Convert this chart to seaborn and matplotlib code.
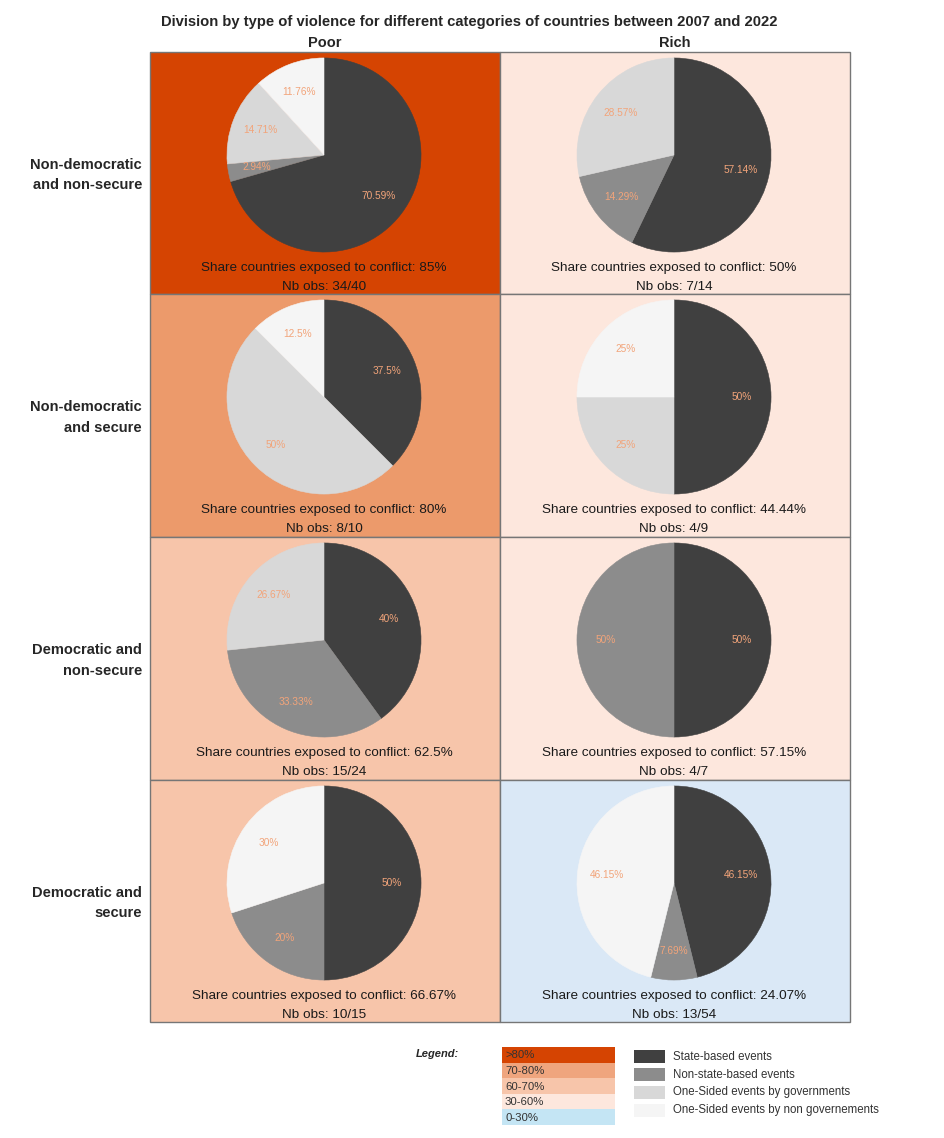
import numpy as np
import matplotlib
matplotlib.use("Agg")
import matplotlib.pyplot as plt
from matplotlib.patches import Rectangle
import seaborn as sns

# data
income_groups = ["Poor", "Rich"]
row_labels = ["Non-democratic\nand non-secure", "Non-democratic\nand secure",
              "Democratic and\nnon-secure", "Democratic and\nsecure"]
event_types = ["State-based events", "Non-state-based events",
               "One-Sided events by governments", "One-Sided events by non governements"]

# shares per type of violence (%), order = event_types
poor_shares = [
    [70.59, 2.94, 14.71, 11.76],
    [37.5, 0, 50, 12.5],
    [40, 33.33, 26.67, 0],
    [50, 20, 0, 30],
]
rich_shares = [
    [57.14, 14.29, 28.57, 0],
    [50, 0, 25, 25],
    [50, 50, 0, 0],
    [46.15, 7.69, 0, 46.15],
]
poor_exposed = ["85%", "80%", "62.5%", "66.67%"]
rich_exposed = ["50%", "44.44%", "57.15%", "24.07%"]
poor_exposed_val = [85, 80, 62.5, 66.67]
rich_exposed_val = [50, 44.44, 57.15, 24.07]
poor_obs = ["34/40", "8/10", "15/24", "10/15"]
rich_obs = ["7/14", "4/9", "4/7", "13/54"]

class_labels = [">80%", "70-80%", "60-70%", "30-60%", "0-30%"]
class_colors = ["#d54402", "#ec9a6b", "#f7c5aa", "#fde7dd", "#dae8f6"]
legend_colors = ["#d54402", "#efa57e", "#f7c5aa", "#fde7dd", "#c4e5f4"]

sns.set_theme(style="white")
plt.rcParams['font.family'] = ['Liberation Sans', 'DejaVu Sans']

greys = sns.color_palette(["#404040", "#8c8c8c", "#d8d8d8", "#f5f5f5"])
pct_color = "#f2a47a"


def class_color(v):
    if v > 80:
        return class_colors[0]
    if v > 70:
        return class_colors[1]
    if v > 60:
        return class_colors[2]
    if v > 30:
        return class_colors[3]
    return class_colors[4]


W, H = 945, 1138
fig = plt.figure(figsize=(W / 100, H / 100), dpi=100)
bg = fig.add_axes([0, 0, 1, 1])
bg.set_xlim(0, W)
bg.set_ylim(H, 0)
bg.axis("off")

col_x = [150, 500, 850]
row_y = [52, 294, 537, 780, 1022]
radius = 98

bg.text(469, 22, "Division by type of violence for different categories of countries between 2007 and 2022",
        ha="center", va="center", fontsize=10.6, fontweight="bold")
for j, name in enumerate(income_groups):
    bg.text((col_x[j] + col_x[j + 1]) / 2, 43, name, ha="center", va="center",
            fontsize=10.5, fontweight="bold")

for i in range(4):
    y0, y1 = row_y[i], row_y[i + 1]
    bg.text(142, (y0 + y1) / 2 + 2, row_labels[i], ha="right", va="center",
            fontsize=10.5, fontweight="bold", linespacing=1.55)
    for j in range(2):
        shares = poor_shares[i] if j == 0 else rich_shares[i]
        exposed = poor_exposed[i] if j == 0 else rich_exposed[i]
        exposed_v = poor_exposed_val[i] if j == 0 else rich_exposed_val[i]
        obs = poor_obs[i] if j == 0 else rich_obs[i]
        x0, x1 = col_x[j], col_x[j + 1]
        bg.add_patch(Rectangle((x0, y0), x1 - x0, y1 - y0, facecolor=class_color(exposed_v),
                               edgecolor="#767676", linewidth=1.0))
        cx = (x0 + x1) / 2 - 1
        cy = y0 + 103
        pax = fig.add_axes([(cx - radius) / W, 1 - (cy + radius) / H, 2 * radius / W, 2 * radius / H])
        wedges, _, _ = pax.pie(shares, colors=greys, startangle=90, counterclock=False,
                               autopct=lambda p: "" if p < 0.01 else f"{round(p, 2):g}%",
                               pctdistance=0.7, textprops={"color": pct_color, "fontsize": 7.3})
        for w, s in zip(wedges, shares):
            if s > 0:
                w.set_edgecolor(w.get_facecolor())
                w.set_linewidth(0.4)
            else:
                w.set_visible(False)
        pax.set_xlim(-1.01, 1.01)
        pax.set_ylim(-1.01, 1.01)
        pax.axis("off")
        bg.text(cx, y0 + 216, f"Share countries exposed to conflict: {exposed}",
                ha="center", va="center", fontsize=9.7, color="#1a1a1a")
        bg.text(cx, y0 + 235, f"Nb obs: {obs}", ha="center", va="center",
                fontsize=9.7, color="#1a1a1a")

# legend
bg.text(437, 1054, "Legend:", ha="center", va="center", fontsize=8,
        fontweight="bold", fontstyle="italic")
box_h = 15.6
for k, (lab, col) in enumerate(zip(class_labels, legend_colors)):
    yy = 1047 + k * box_h
    bg.add_patch(Rectangle((502, yy), 113, box_h, facecolor=col, edgecolor="none"))
    bg.text(505, yy + box_h / 2 + 0.5, lab, ha="left", va="center", fontsize=8.2, color="#333333")
for k, (lab, col) in enumerate(zip(event_types, greys)):
    yy = 1050 + k * 18
    bg.add_patch(Rectangle((634, yy), 31, 13, facecolor=col, edgecolor="none"))
    bg.text(673, yy + 6.5, lab, ha="left", va="center", fontsize=8.3, color="#333333")

fig.savefig("out.png", dpi=100)
